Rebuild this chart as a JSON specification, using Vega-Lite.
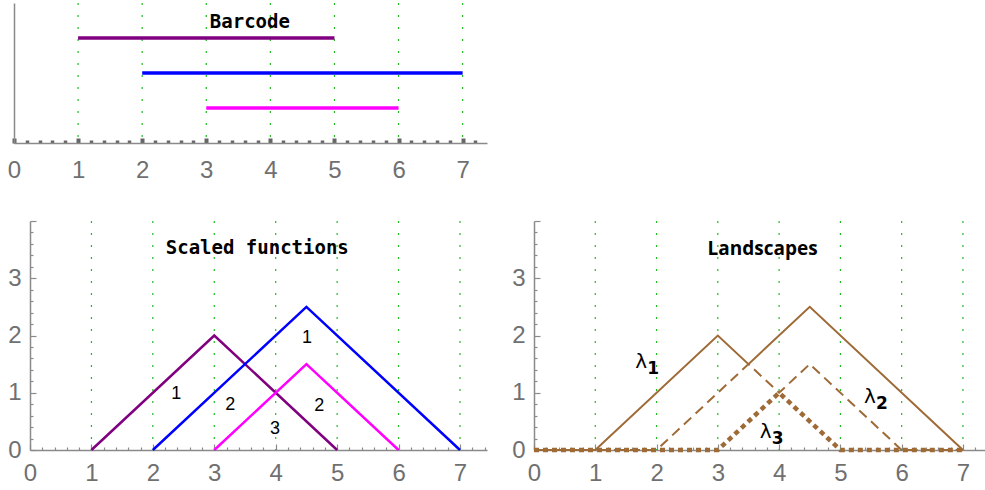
{
  "$schema": "https://vega.github.io/schema/vega-lite/v6.json",
  "padding": {"left": 0, "top": 2, "right": 0, "bottom": 0},
  "background": "white",
  "datasets": {
    "grid": [{"x": 1}, {"x": 2}, {"x": 3}, {"x": 4}, {"x": 5}, {"x": 6}, {"x": 7}],
    "bars": [
      {"pair": "(1,5)", "birth": 1, "death": 5, "row": 3},
      {"pair": "(2,7)", "birth": 2, "death": 7, "row": 2},
      {"pair": "(3,6)", "birth": 3, "death": 6, "row": 1}
    ],
    "tents": [
      {"pair": "(1,5)", "x": 1, "y": 0},
      {"pair": "(1,5)", "x": 3, "y": 2},
      {"pair": "(1,5)", "x": 5, "y": 0},
      {"pair": "(2,7)", "x": 2, "y": 0},
      {"pair": "(2,7)", "x": 4.5, "y": 2.5},
      {"pair": "(2,7)", "x": 7, "y": 0},
      {"pair": "(3,6)", "x": 3, "y": 0},
      {"pair": "(3,6)", "x": 4.5, "y": 1.5},
      {"pair": "(3,6)", "x": 6, "y": 0}
    ],
    "tentLabels": [
      {"x": 2.38, "y": 0.98, "rank": "1"},
      {"x": 3.26, "y": 0.78, "rank": "2"},
      {"x": 3.99, "y": 0.37, "rank": "3"},
      {"x": 4.51, "y": 1.95, "rank": "1"},
      {"x": 4.71, "y": 0.77, "rank": "2"}
    ],
    "landscapes": [
      {"k": "λ1", "x": 0, "y": 0},
      {"k": "λ1", "x": 1, "y": 0},
      {"k": "λ1", "x": 3, "y": 2},
      {"k": "λ1", "x": 3.5, "y": 1.5},
      {"k": "λ1", "x": 4.5, "y": 2.5},
      {"k": "λ1", "x": 7, "y": 0},
      {"k": "λ2", "x": 0, "y": 0},
      {"k": "λ2", "x": 2, "y": 0},
      {"k": "λ2", "x": 3.5, "y": 1.5},
      {"k": "λ2", "x": 4, "y": 1},
      {"k": "λ2", "x": 4.5, "y": 1.5},
      {"k": "λ2", "x": 6, "y": 0},
      {"k": "λ2", "x": 7, "y": 0},
      {"k": "λ3", "x": 0, "y": 0},
      {"k": "λ3", "x": 3, "y": 0},
      {"k": "λ3", "x": 4, "y": 1},
      {"k": "λ3", "x": 5, "y": 0},
      {"k": "λ3", "x": 7, "y": 0}
    ],
    "lambdaLabels": [
      {"x": 1.75, "y": 1.54, "k": "1"},
      {"x": 5.48, "y": 0.93, "k": "2"},
      {"x": 3.78, "y": 0.31, "k": "3"}
    ],
    "one": [{}]
  },
  "config": {
    "view": {"stroke": null},
    "axis": {
      "grid": false,
      "title": null,
      "format": "d",
      "tickCount": 100,
      "labelFlush": false,
      "labelOverlap": false,
      "labelFont": "Liberation Sans",
      "labelColor": "#707070",
      "domainColor": "#8a8a8a",
      "domainWidth": 1.5,
      "tickColor": "#8a8a8a",
      "tickWidth": 1.2
    },
    "axisY": {"minExtent": 14}
  },
  "concat": [
    {
      "width": 473,
      "height": 140,
      "layer": [
        {
          "data": {"name": "grid"},
          "mark": {"type": "rule", "color": "#22bb22", "strokeWidth": 1.2, "strokeDash": [2, 10]},
          "encoding": {
            "x": {"field": "x", "type": "quantitative", "scale": {"domain": [0, 7.38], "nice": false, "zero": false},
              "axis": {
                "values": [0,0.2,0.4,0.6,0.8,1,1.2,1.4,1.6,1.8,2,2.2,2.4,2.6,2.8,3,3.2,3.4,3.6,3.8,4,4.2,4.4,4.6,4.8,5,5.2,5.4,5.6,5.8,6,6.2,6.4,6.6,6.8,7,7.2],
                "tickCount": 100,
                "labelExpr": "datum.value % 1 === 0 ? datum.label : ''",
                "labelFontSize": {"condition": {"test": "datum.value % 1 === 0", "value": 24}, "value": 0},
                "tickSize": {"condition": {"test": "datum.value % 1 === 0", "value": -5}, "value": -3},
                "tickWidth": {"condition": {"test": "datum.value % 1 === 0", "value": 4}, "value": 3.5},
                "tickColor": "#666666",
                "labelPadding": 20,
                "minExtent": 40,
                "maxExtent": 40
              }
            }
          }
        },
        {
          "data": {"name": "bars"},
          "mark": {"type": "rule", "strokeWidth": 3.5},
          "encoding": {
            "x": {"field": "birth", "type": "quantitative"},
            "x2": {"field": "death"},
            "y": {"field": "row", "type": "quantitative", "scale": {"domain": [0, 4], "nice": false},
              "axis": {"labels": false, "ticks": false, "minExtent": 14, "maxExtent": 14}},
            "color": {"field": "pair", "type": "nominal", "legend": null,
              "scale": {"domain": ["(1,5)", "(2,7)", "(3,6)"], "range": ["#800080", "#0000ff", "#ff00ff"]}}
          }
        },
        {
          "data": {"name": "one"},
          "mark": {"type": "text", "font": "DejaVu Sans Mono", "fontWeight": "bold", "fontSize": 19, "align": "center", "baseline": "middle", "color": "black"},
          "encoding": {
            "x": {"datum": 3.68, "type": "quantitative"},
            "y": {"datum": 3.47, "type": "quantitative"},
            "text": {"value": "Barcode"}
          }
        }
      ]
    },
    {
      "spacing": 17,
      "hconcat": [
        {
          "width": 473,
          "height": 229,
          "layer": [
            {
              "data": {"name": "grid"},
              "mark": {"type": "rule", "color": "#22bb22", "strokeWidth": 1.2, "strokeDash": [2, 10]},
              "encoding": {
                "x": {"field": "x", "type": "quantitative", "scale": {"domain": [-0.2606, 7.44], "nice": false, "zero": false},
                  "axis": {
                    "values": [0,0.2,0.4,0.6,0.8,1,1.2,1.4,1.6,1.8,2,2.2,2.4,2.6,2.8,3,3.2,3.4,3.6,3.8,4,4.2,4.4,4.6,4.8,5,5.2,5.4,5.6,5.8,6,6.2,6.4,6.6,6.8,7,7.2,7.4],
                    "tickCount": 100,
                    "domainDash": [0, 16, 1000],
                    "labelExpr": "datum.value % 1 === 0 ? datum.label : ''",
                    "labelFontSize": {"condition": {"test": "datum.value % 1 === 0", "value": 24}, "value": 0},
                    "tickSize": {"condition": {"test": "datum.value % 1 === 0", "value": -6}, "value": -3},
                    "labelPadding": 17
                  }
                }
              }
            },
            {
              "data": {"name": "tents"},
              "mark": {"type": "line", "strokeWidth": 2.5},
              "encoding": {
                "x": {"field": "x", "type": "quantitative"},
                "y": {"field": "y", "type": "quantitative", "scale": {"domain": [0, 4], "nice": false},
                  "axis": {
                    "values": [0,0.2,0.4,0.6,0.8,1,1.2,1.4,1.6,1.8,2,2.2,2.4,2.6,2.8,3,3.2,3.4,3.6,3.8,4],
                    "tickCount": 100,
                    "offset": -16,
                    "labelExpr": "datum.value % 1 === 0 && datum.value < 4 ? datum.label : ''",
                    "labelFontSize": {"condition": {"test": "datum.value % 1 === 0 && datum.value < 4", "value": 24}, "value": 0},
                    "tickSize": {"condition": {"test": "datum.value % 1 === 0", "value": -6}, "value": -3},
                    "labelPadding": 15,
                    "minExtent": 0
                  }
                },
                "color": {"field": "pair", "type": "nominal", "legend": null,
                  "scale": {"domain": ["(1,5)", "(2,7)", "(3,6)"], "range": ["#800080", "#0000ff", "#ff00ff"]}}
              }
            },
            {
              "data": {"name": "tentLabels"},
              "mark": {"type": "text", "font": "Liberation Sans", "fontSize": 18, "align": "center", "baseline": "middle", "color": "black"},
              "encoding": {
                "x": {"field": "x", "type": "quantitative"},
                "y": {"field": "y", "type": "quantitative"},
                "text": {"field": "rank"}
              }
            },
            {
              "data": {"name": "one"},
              "mark": {"type": "text", "font": "DejaVu Sans Mono", "fontWeight": "bold", "fontSize": 19, "align": "center", "baseline": "middle", "color": "black"},
              "encoding": {
                "x": {"datum": 3.7, "type": "quantitative"},
                "y": {"datum": 3.53, "type": "quantitative"},
                "text": {"value": "Scaled functions"}
              }
            }
          ]
        },
        {
          "width": 451,
          "height": 229,
          "layer": [
            {
              "data": {"name": "grid"},
              "mark": {"type": "rule", "color": "#22bb22", "strokeWidth": 1.2, "strokeDash": [2, 10]},
              "encoding": {
                "x": {"field": "x", "type": "quantitative", "scale": {"domain": [0, 7.36], "nice": false, "zero": false},
                  "axis": {
                    "values": [0,0.2,0.4,0.6,0.8,1,1.2,1.4,1.6,1.8,2,2.2,2.4,2.6,2.8,3,3.2,3.4,3.6,3.8,4,4.2,4.4,4.6,4.8,5,5.2,5.4,5.6,5.8,6,6.2,6.4,6.6,6.8,7,7.2],
                    "tickCount": 100,
                    "labelExpr": "datum.value % 1 === 0 ? datum.label : ''",
                    "labelFontSize": {"condition": {"test": "datum.value % 1 === 0", "value": 24}, "value": 0},
                    "tickSize": {"condition": {"test": "datum.value % 1 === 0", "value": -6}, "value": -3},
                    "labelPadding": 17
                  }
                }
              }
            },
            {
              "data": {"name": "landscapes"},
              "transform": [{"filter": "datum.k === 'λ1'"}],
              "mark": {"type": "line", "color": "#9e6a36", "strokeWidth": 2},
              "encoding": {
                "x": {"field": "x", "type": "quantitative"},
                "y": {"field": "y", "type": "quantitative", "scale": {"domain": [0, 4], "nice": false},
                  "axis": {
                    "values": [0,0.2,0.4,0.6,0.8,1,1.2,1.4,1.6,1.8,2,2.2,2.4,2.6,2.8,3,3.2,3.4,3.6,3.8,4],
                    "tickCount": 100,
                    "labelExpr": "datum.value % 1 === 0 && datum.value < 4 ? datum.label : ''",
                    "labelFontSize": {"condition": {"test": "datum.value % 1 === 0 && datum.value < 4", "value": 24}, "value": 0},
                    "tickSize": {"condition": {"test": "datum.value % 1 === 0", "value": -6}, "value": -3},
                    "labelPadding": 15,
                    "minExtent": 30,
                    "maxExtent": 30
                  }
                }
              }
            },
            {
              "data": {"name": "landscapes"},
              "transform": [{"filter": "datum.k === 'λ2'"}],
              "mark": {"type": "line", "color": "#9e6a36", "strokeWidth": 2, "strokeDash": [10, 6]},
              "encoding": {
                "x": {"field": "x", "type": "quantitative"},
                "y": {"field": "y", "type": "quantitative"}
              }
            },
            {
              "data": {"name": "landscapes"},
              "transform": [{"filter": "datum.k === 'λ3'"}],
              "mark": {"type": "line", "color": "#9e6a36", "strokeWidth": 4.5, "strokeDash": [5, 4]},
              "encoding": {
                "x": {"field": "x", "type": "quantitative"},
                "y": {"field": "y", "type": "quantitative"}
              }
            },
            {
              "data": {"name": "lambdaLabels"},
              "mark": {"type": "text", "font": "DejaVu Sans", "fontSize": 20, "align": "center", "baseline": "middle", "color": "black"},
              "encoding": {
                "x": {"field": "x", "type": "quantitative"},
                "y": {"field": "y", "type": "quantitative"},
                "text": {"value": "λ"}
              }
            },
            {
              "data": {"name": "lambdaLabels"},
              "mark": {"type": "text", "font": "DejaVu Sans", "fontWeight": "bold", "fontSize": 17, "align": "center", "baseline": "middle", "dx": 12, "dy": 7, "color": "black"},
              "encoding": {
                "x": {"field": "x", "type": "quantitative"},
                "y": {"field": "y", "type": "quantitative"},
                "text": {"field": "k"}
              }
            },
            {
              "data": {"name": "one"},
              "mark": {"type": "text", "font": "Open Sans", "fontWeight": "bold", "fontSize": 19, "align": "center", "baseline": "middle", "color": "black"},
              "encoding": {
                "x": {"datum": 3.73, "type": "quantitative"},
                "y": {"datum": 3.51, "type": "quantitative"},
                "text": {"value": "Landscapes"}
              }
            }
          ]
        }
      ]
    }
  ],
  "columns": 1,
  "spacing": 37
}
